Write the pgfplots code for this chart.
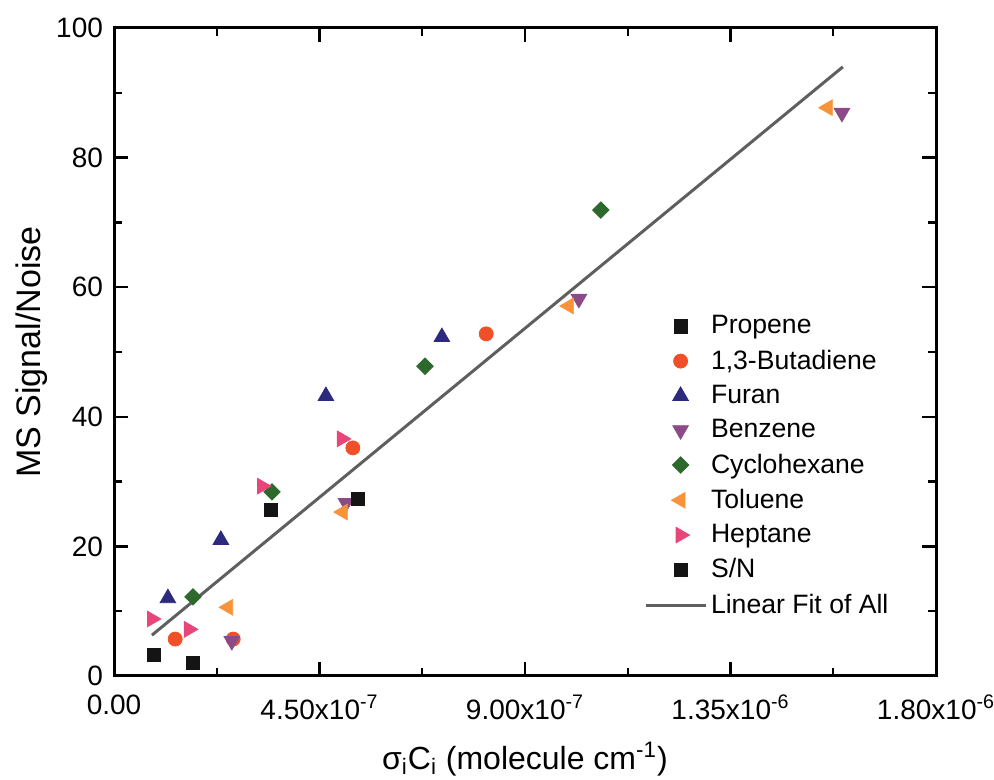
\documentclass[border=0pt]{standalone}
\usepackage{pgfplots}
\pgfplotsset{compat=1.18}
\usepackage{fontspec}
\setmainfont{Liberation Sans}
\definecolor{cProp}{RGB}{20,20,20}
\definecolor{cBut}{RGB}{240,80,40}
\definecolor{cFur}{RGB}{45,42,125}
\definecolor{cBen}{RGB}{140,75,135}
\definecolor{cCyc}{RGB}{45,105,45}
\definecolor{cTol}{RGB}{247,148,58}
\definecolor{cHep}{RGB}{232,70,120}
\definecolor{cFit}{RGB}{95,95,95}
\pgfplotsset{fitleg/.style={legend image code/.code={\draw[##1] (-9pt,0pt) -- (21pt,0pt);}}}
\begin{document}
\begin{tikzpicture}
\begin{axis}[
  scale only axis, width=411pt, height=324pt,
  xmin=0, xmax=1.8e-6, ymin=0, ymax=100,
  scaled x ticks=false,
  xtick={0,4.5e-7,9e-7,1.35e-6,1.8e-6},
  xticklabels={0.00,4.50x10\textsuperscript{-7},9.00x10\textsuperscript{-7},1.35x10\textsuperscript{-6},1.80x10\textsuperscript{-6}},
  minor x tick num=1,
  ytick={0,20,40,60,80,100},
  minor y tick num=1,
  /pgf/number format/assume math mode=true,
  tick align=inside,
  major tick length=7pt, minor tick length=4pt,
  every tick/.style={line width=1.2pt, black},
  axis line style={line width=1.5pt},
  ticklabel style={font=\fontsize{14}{16}\selectfont},
  yticklabel style={xshift=-2pt},
  xticklabel style={yshift=-6pt},
  xlabel={σ\textsubscript{i}C\textsubscript{i} (molecule cm\textsuperscript{-1})},
  ylabel={MS Signal/Noise},
  xlabel style={font=\fontsize{16}{19}\selectfont, at={(axis description cs:0.5,-0.128)}, anchor=center},
  ylabel style={font=\fontsize{17}{20}\selectfont, at={(axis description cs:-0.1,0.5)}, anchor=center},
  legend style={at={(0.637,0.569)}, anchor=north west, draw=none, fill=none,
    font=\fontsize{13.3}{15.5}\selectfont, row sep=2.5pt,
    /tikz/every even column/.append style={column sep=11pt}},
  legend cell align=left,
  clip=false,
]
\addplot[only marks, mark=square*, mark size=3.3pt, color=cProp] coordinates {
 (0.876e-7,3.2) (1.73e-7,2.0) (3.44e-7,25.6) (5.34e-7,27.3)};
\addlegendentry{Propene}
\addplot[only marks, mark=*, mark size=3.5pt, color=cBut] coordinates {
 (1.34e-7,5.7) (2.61e-7,5.7) (5.23e-7,35.2) (8.15e-7,52.8)};
\addlegendentry{1,3-Butadiene}
\addplot[only marks, mark=triangle*, mark size=4.5pt, color=cFur] coordinates {
 (1.18e-7,12.0) (2.34e-7,21.0) (4.64e-7,43.2) (7.18e-7,52.3)};
\addlegendentry{Furan}
\addplot[only marks, mark=triangle*, mark options={rotate=180}, mark size=4.5pt, color=cBen] coordinates {
 (2.58e-7,5.4) (5.08e-7,26.7) (10.18e-7,58.2) (15.94e-7,86.9)};
\addlegendentry{Benzene}
\addplot[only marks, mark=square*, mark options={rotate=45}, mark size=2.9pt, color=cCyc] coordinates {
 (1.73e-7,12.2) (3.46e-7,28.4) (6.81e-7,47.8) (10.66e-7,71.9)};
\addlegendentry{Cyclohexane}
\addplot[only marks, mark=triangle*, mark options={rotate=90}, mark size=4.5pt, color=cTol] coordinates {
 (2.50e-7,10.6) (5.01e-7,25.3) (9.96e-7,57.1) (15.63e-7,87.7)};
\addlegendentry{Toluene}
\addplot[only marks, mark=triangle*, mark options={rotate=-90}, mark size=4.5pt, color=cHep] coordinates {
 (0.83e-7,8.8) (1.64e-7,7.2) (3.24e-7,29.3) (4.99e-7,36.6)};
\addlegendentry{Heptane}
\addplot[only marks, mark=square*, mark size=3.3pt, color=cProp] coordinates {
 (0.876e-7,3.2) (1.73e-7,2.0) (3.44e-7,25.6) (5.34e-7,27.3)};
\addlegendentry{S/N}
\addplot[line width=1.5pt, color=cFit, no marks, fitleg] coordinates {
 (0.83e-7,6.3) (15.96e-7,94.0)};
\addlegendentry{Linear Fit of All}
\end{axis}
\pgfresetboundingbox
\path (current axis.south west) ++(-57pt,-52pt) (current axis.north east) ++(29pt,14pt);
\end{tikzpicture}
\end{document}
